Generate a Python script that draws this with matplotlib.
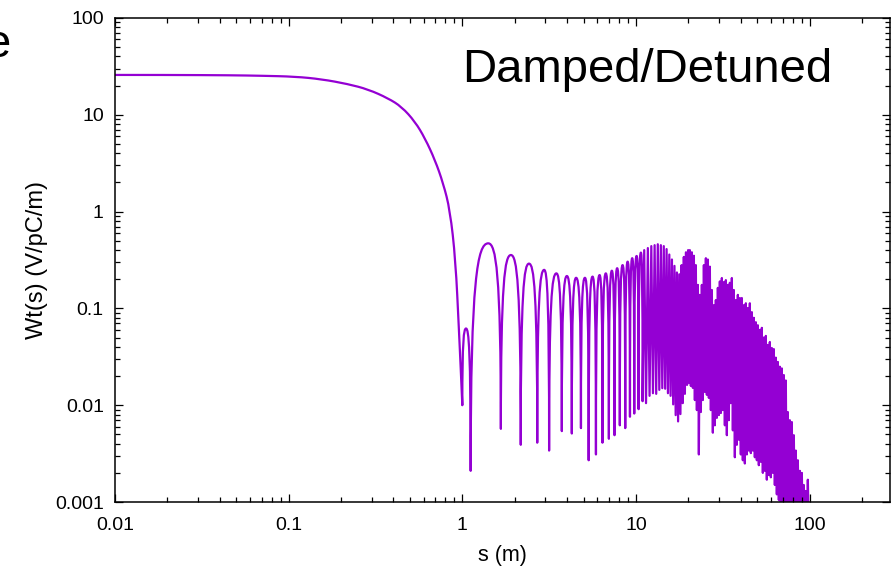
import matplotlib
matplotlib.use("Agg")
import matplotlib.pyplot as plt
import numpy as np
from matplotlib import ticker
from matplotlib.path import Path
from matplotlib.patches import PathPatch

plt.rcParams["font.family"] = ["Liberation Sans", "DejaVu Sans"]

PURPLE = "#9400d3"

# smooth decay of the wake down to the first null
s_decay = [0.01, 0.02, 0.047, 0.07, 0.109, 0.155, 0.219, 0.287, 0.374, 0.447,
           0.534, 0.61, 0.696, 0.776, 0.849, 0.914, 0.956, 0.98, 1.00]
w_decay = [25.8, 25.8, 25.6, 25.3, 24.8, 23.3, 20.8, 18.3, 14.8, 12.1,
           8.5, 5.7, 3.41, 1.96, 1.04, 0.316, 0.06, 0.023, 0.010]

# resolved lobes, 1 - 11 m
s_null_a = [1.00, 1.117, 1.667, 2.17, 2.70, 3.16, 3.74, 4.27, 4.82, 5.34,
            5.88, 6.41, 6.98, 7.52, 8.07, 8.67, 9.23, 9.77, 10.35, 10.91]
w_null_a = [0.010, 0.0021, 0.0057, 0.0039, 0.0041, 0.0034, 0.0054, 0.0051, 0.0058, 0.0027,
            0.0031, 0.0041, 0.0045, 0.0049, 0.0062, 0.0058, 0.0076, 0.0082, 0.0091, 0.011]
s_peak_a = [1.05, 1.41, 1.905, 2.42, 2.96, 3.48, 4.0, 4.52, 5.08, 5.62,
            6.17, 6.70, 7.26, 7.79, 8.37, 8.95, 9.51, 10.08, 10.67]
w_peak_a = [0.062, 0.47, 0.356, 0.29, 0.25, 0.23, 0.216, 0.207, 0.207, 0.213,
            0.221, 0.23, 0.245, 0.26, 0.28, 0.304, 0.33, 0.348, 0.377]

# dense oscillations, 11 - 100 m
s_osc_peak = [11.15, 11.7, 12.25, 12.8, 13.35, 13.9, 14.45, 15.0, 15.55, 16.1,
              16.65, 17.2, 17.75, 18.3, 18.85, 19.4, 19.95,
              20.42, 20.97, 21.54, 22.11, 22.71, 23.32, 23.94, 24.59, 25.25, 25.92,
              26.62, 27.34, 28.07, 28.82, 29.60, 30.39, 31.21, 32.05, 32.91, 33.79,
              34.70, 35.63, 36.59, 37.57, 38.58, 39.62, 40.68, 41.77, 42.90, 44.05,
              45.23, 46.45, 47.69, 48.98, 50.29, 51.64, 53.03, 54.45, 55.92, 57.42,
              58.96, 60.54, 62.17, 63.84, 65.56, 67.32, 69.12, 70.98, 72.89, 74.85,
              76.86, 78.92, 81.04, 83.22, 85.46, 87.75, 90.11, 92.53, 95.02, 97.57]
w_osc_peak = [0.40, 0.42, 0.44, 0.45, 0.46, 0.45, 0.44, 0.41, 0.36, 0.32,
              0.275, 0.235, 0.225, 0.28, 0.34, 0.38, 0.40,
              0.40, 0.38, 0.35, 0.28, 0.175, 0.138, 0.175, 0.28, 0.33, 0.32,
              0.27, 0.155, 0.108, 0.122, 0.163, 0.19, 0.206, 0.187, 0.196, 0.175,
              0.184, 0.206, 0.155, 0.122, 0.138, 0.128, 0.128, 0.108, 0.113, 0.101,
              0.113, 0.0915, 0.080, 0.072, 0.067, 0.060, 0.063, 0.050, 0.052, 0.042,
              0.045, 0.039, 0.038, 0.031, 0.028, 0.025, 0.024, 0.0205, 0.018, 0.0085,
              0.0070, 0.0067, 0.0049, 0.0034, 0.0027, 0.0021, 0.0020, 0.0015, 0.0013, 0.0017]
s_osc_null = [11.42, 11.97, 12.52, 13.07, 13.62, 14.17, 14.72, 15.27, 15.82, 16.37,
              16.92, 17.47, 18.02, 18.57, 19.12, 19.67, 20.22,
              20.69, 21.25, 21.82, 22.41, 23.01, 23.63, 24.26, 24.92, 25.58, 26.27,
              26.98, 27.70, 28.45, 29.21, 29.99, 30.80, 31.63, 32.48, 33.35, 34.24,
              35.16, 36.11, 37.08, 38.07, 39.10, 40.14, 41.22, 42.33, 43.47, 44.64,
              45.84, 47.07, 48.33, 49.63, 50.96, 52.33, 53.74, 55.18, 56.66, 58.18,
              59.75, 61.35, 63.00, 64.69, 66.43, 68.21, 70.04, 71.93, 73.86, 75.84,
              77.88, 79.97, 82.12, 84.33, 86.59, 88.92, 91.31, 93.76, 96.28, 98.86]
w_osc_null = [0.0105, 0.0125, 0.0133, 0.0131, 0.0144, 0.015, 0.0148, 0.0133, 0.0125, 0.0102,
              0.0079, 0.0068, 0.0081, 0.0105, 0.0131, 0.0162, 0.017,
              0.0158, 0.0151, 0.0113, 0.0089, 0.0031, 0.0085, 0.0113, 0.0137, 0.0128, 0.0119,
              0.0089, 0.0052, 0.0062, 0.0074, 0.0079, 0.0083, 0.0089, 0.0062, 0.0049, 0.0070,
              0.0105, 0.0055, 0.0029, 0.0039, 0.0044, 0.0031, 0.0027, 0.0025, 0.0031, 0.0034,
              0.0032, 0.0034, 0.0029, 0.0027, 0.0024, 0.0026, 0.0020, 0.0021, 0.0017, 0.0019,
              0.0018, 0.0020, 0.0015, 0.0012, 0.00105, 0.0005, 0.0005, 0.0005, 0.0005, 0.0005,
              0.0005, 0.0005, 0.0005, 0.0005, 0.0005, 0.0005, 0.0005, 0.0005, 0.0005, 0.0005]

x_ticks = [0.01, 0.1, 1, 10, 100]
y_ticks = [0.001, 0.01, 0.1, 1, 10, 100]

RISE = 0.85    # how far up the null side the first handle sits
ROUND = 0.6    # how wide the lobe top is kept


def log_mix(a, b, t):
    la, lb = np.log10(a), np.log10(b)
    return 10 ** (la + t * (lb - la))


def build_path():
    # decay: quadratic spline with the read points as control points
    verts = [(s_decay[0], w_decay[0])]
    codes = [Path.MOVETO]
    for i in range(1, len(s_decay) - 1):
        mid = (log_mix(s_decay[i], s_decay[i + 1], 0.5), log_mix(w_decay[i], w_decay[i + 1], 0.5))
        verts += [(s_decay[i], w_decay[i]), mid]
        codes += [Path.CURVE3, Path.CURVE3]
    verts.append((s_decay[-1], w_decay[-1]))
    codes.append(Path.LINETO)
    # lobes drawn as rounded arches between nulls
    for i, (sp, wp) in enumerate(zip(s_peak_a, w_peak_a)):
        s0, w0 = s_null_a[i], w_null_a[i]
        s1, w1 = s_null_a[i + 1], w_null_a[i + 1]
        verts += [(s0, log_mix(w0, wp, RISE)), (log_mix(sp, s0, ROUND), wp), (sp, wp)]
        verts += [(log_mix(sp, s1, ROUND), wp), (s1, log_mix(w1, wp, RISE)), (s1, w1)]
        codes += [Path.CURVE4] * 6
    for sp, wp, sn, wn in zip(s_osc_peak, w_osc_peak, s_osc_null, w_osc_null):
        verts += [(sp, wp), (sn, wn)]
        codes += [Path.LINETO, Path.LINETO]
    return Path(verts, codes)


fig = plt.figure(figsize=(8.96, 5.67), dpi=100)
ax = fig.add_axes([0.1283, 0.1146, 0.865, 0.8537])
ax.set_xscale("log")
ax.set_yscale("log")

ax.add_patch(PathPatch(build_path(), fill=False, edgecolor=PURPLE, linewidth=1.6,
                       joinstyle="round", capstyle="round"))

ax.set_xlim(0.01, 290)
ax.set_ylim(0.001, 100)

fmt = ticker.FuncFormatter(lambda v, _: f"{v:g}")
ax.xaxis.set_major_locator(ticker.FixedLocator(x_ticks))
ax.yaxis.set_major_locator(ticker.FixedLocator(y_ticks))
ax.xaxis.set_major_formatter(fmt)
ax.yaxis.set_major_formatter(fmt)
ax.xaxis.set_minor_locator(ticker.LogLocator(base=10, subs=np.arange(2, 10), numticks=20))
ax.yaxis.set_minor_locator(ticker.LogLocator(base=10, subs=np.arange(2, 10), numticks=20))
ax.xaxis.set_minor_formatter(ticker.NullFormatter())
ax.yaxis.set_minor_formatter(ticker.NullFormatter())

ax.tick_params(which="both", direction="in", top=True, right=True, width=0.9, colors="black")
ax.tick_params(which="major", length=6, labelsize=14)
ax.tick_params(which="minor", length=3.5)
ax.tick_params(axis="x", which="major", pad=11)
ax.tick_params(axis="y", which="major", pad=8)
for sp in ax.spines.values():
    sp.set_linewidth(1.1)

ax.set_xlabel("s (m)", fontsize=15.5, labelpad=8)
ax.set_ylabel("Wt(s) (V/pC/m)", fontsize=17, labelpad=5)

fig.text(462 / 896, 1 - 82.5 / 567, "Damped/Detuned", fontsize=34, ha="left", va="baseline")
fig.text(11 / 896, 1 - 57 / 567, "e", fontsize=34, ha="right", va="baseline")

fig.savefig("out.png", dpi=100)
